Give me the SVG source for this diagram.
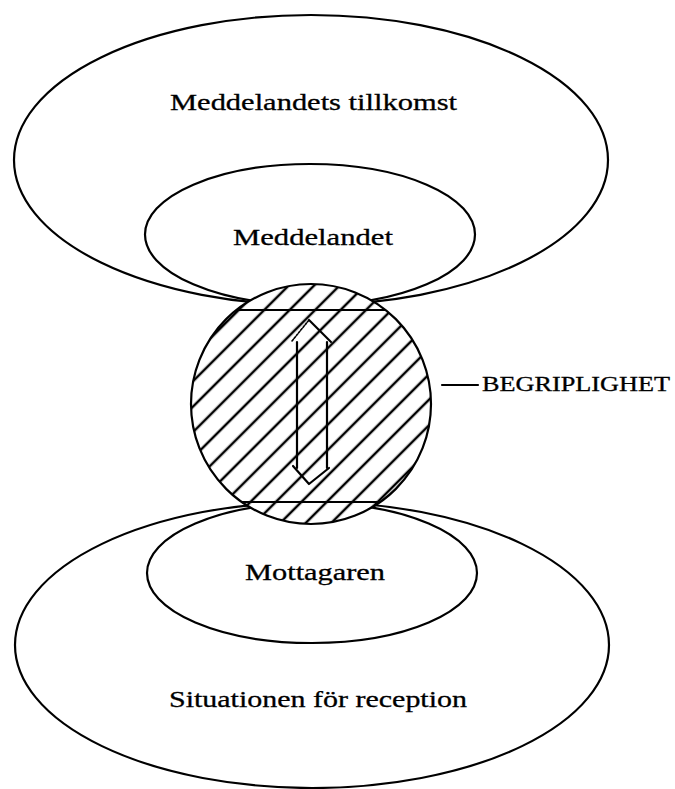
<svg xmlns="http://www.w3.org/2000/svg" width="675" height="789" viewBox="0 0 675 789">
  <style>
    .shape { fill: #ffffff; stroke: #000000; stroke-width: 2.2; }
    .line { fill: none; stroke: #000000; stroke-width: 2.2; stroke-linecap: round; stroke-linejoin: round; }
    .thin { fill: none; stroke: #000000; stroke-width: 1.6; stroke-linecap: round; stroke-linejoin: round; }
    .label { font-family: "Liberation Serif", "DejaVu Serif", serif; font-size: 24px; fill: #000000; stroke: #000000; stroke-width: 0.3; }
    .side { font-family: "Liberation Serif", "DejaVu Serif", serif; font-size: 20px; fill: #000000; stroke: #000000; stroke-width: 0.3; }
  </style>
  <defs>
    <pattern id="hatch" width="18" height="18" patternUnits="userSpaceOnUse" patternTransform="rotate(45)">
      <line x1="10" y1="0" x2="10" y2="18" stroke="#000000" stroke-width="2.5"/>
    </pattern>
    <clipPath id="circleClip">
      <circle cx="311" cy="404" r="120"/>
    </clipPath>
  </defs>
  <rect x="0" y="0" width="675" height="789" fill="#ffffff"/>

  <g id="meddelandets-tillkomst">
    <ellipse class="shape" cx="311" cy="160" rx="297" ry="145"/>
    <text class="label" x="170" y="110" textLength="287" lengthAdjust="spacingAndGlyphs">Meddelandets tillkomst</text>
  </g>

  <g id="meddelandet">
    <ellipse class="shape" cx="310" cy="234.5" rx="165" ry="70.5"/>
    <text class="label" x="233" y="245" textLength="160" lengthAdjust="spacingAndGlyphs">Meddelandet</text>
  </g>

  <g id="situationen-for-reception">
    <ellipse class="shape" cx="312" cy="645" rx="297" ry="143"/>
    <text class="label" x="169" y="707" textLength="298" lengthAdjust="spacingAndGlyphs">Situationen för reception</text>
  </g>

  <g id="mottagaren">
    <ellipse class="shape" cx="312" cy="573" rx="165" ry="70"/>
    <text class="label" x="245" y="580" textLength="140" lengthAdjust="spacingAndGlyphs">Mottagaren</text>
  </g>

  <g id="begriplighet">
    <circle cx="311" cy="404" r="120" fill="#ffffff"/>
    <rect x="186" y="279" width="250" height="250" fill="url(#hatch)" clip-path="url(#circleClip)"/>
    <circle class="line" cx="311" cy="404" r="120"/>
    <line class="line" x1="237" y1="310" x2="385" y2="310"/>
    <line class="line" x1="242" y1="502" x2="380" y2="502"/>
    <text class="side" x="482" y="391" textLength="188" lengthAdjust="spacingAndGlyphs">BEGRIPLIGHET</text>
  </g>

  <g id="connectors">
    <line class="line" x1="442" y1="385" x2="478" y2="385"/>
    <path class="thin" d="M292,341 L309,320" stroke-dasharray="2 1.5"/>
    <path class="line" d="M309,320 L331,342"/>
    <path class="line" d="M297,342 V468"/>
    <path class="line" d="M327,342 V468"/>
    <path class="line" d="M293,466 L309,484 L329,468"/>
  </g>
</svg>
